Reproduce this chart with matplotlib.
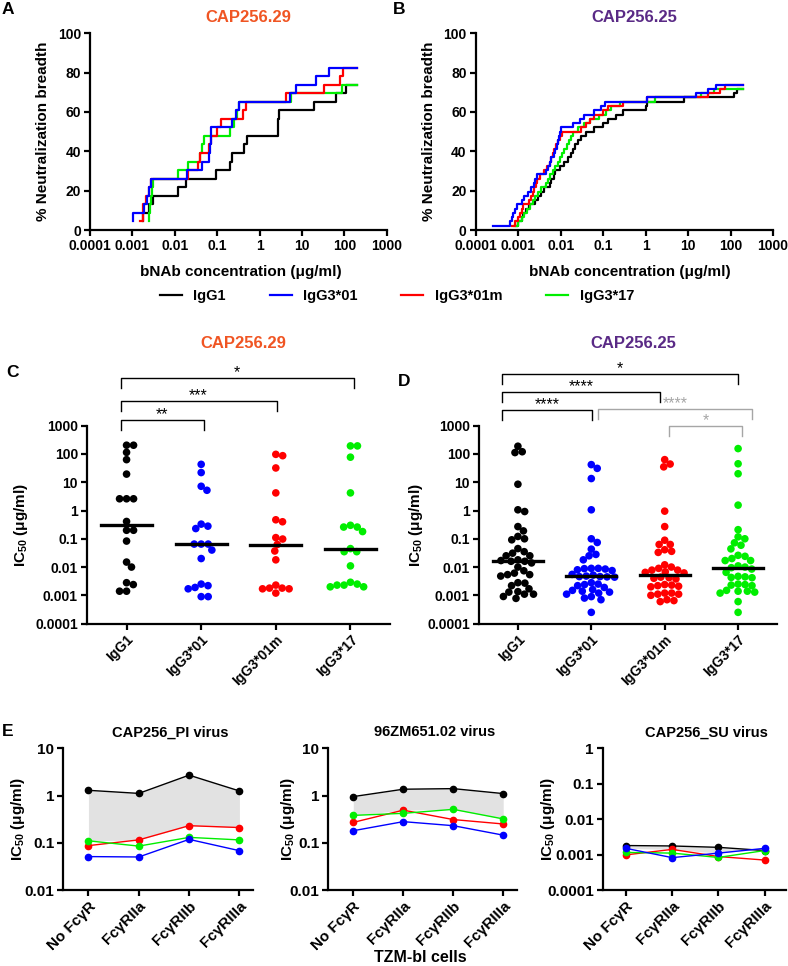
import matplotlib
matplotlib.use('Agg')
import matplotlib.pyplot as plt
import numpy as np
from matplotlib.ticker import FixedLocator, FuncFormatter, NullLocator
from matplotlib.lines import Line2D
from matplotlib.transforms import blended_transform_factory

plt.rcParams['font.family'] = ['Liberation Sans', 'DejaVu Sans']
plt.rcParams['font.weight'] = 'bold'
plt.rcParams['axes.labelweight'] = 'bold'
plt.rcParams['mathtext.fontset'] = 'custom'
plt.rcParams['mathtext.rm'] = 'Liberation Sans:bold'
plt.rcParams['mathtext.it'] = 'Liberation Sans:bold'
plt.rcParams['mathtext.bf'] = 'Liberation Sans:bold'

W, H = 788, 966

isotypes = ['IgG1', 'IgG3*01', 'IgG3*01m', 'IgG3*17']
colors = ['black', '#0000ff', '#ff0000', '#00ee00']
title_29 = 'CAP256.29'
title_25 = 'CAP256.25'
col_29 = '#f05523'
col_25 = '#5a2a86'

# A: IC50 (ug/ml) at which each virus becomes neutralized, 23 viruses in panel
n_virus_29 = 23
a_igg1 = [0.0018, 0.0018, 0.0025, 0.0031, 0.012, 0.018, 0.093, 0.2, 0.23, 0.42,
          0.51, 2.7, 2.8, 2.9, 19, 62, 107]
a_igg301 = [0.00105, 0.00105, 0.0019, 0.0022, 0.0025, 0.0027, 0.019, 0.045, 0.065,
            0.068, 0.07, 0.072, 0.23, 0.28, 0.33, 5.3, 7.2, 22, 43]
a_igg301m = [0.0015, 0.0018, 0.0018, 0.0021, 0.0025, 0.0027, 0.02, 0.035, 0.04,
             0.065, 0.07, 0.1, 0.12, 0.4, 0.47, 4.3, 33, 80, 95]
a_igg317 = [0.0024, 0.0025, 0.0026, 0.0027, 0.0029, 0.0031, 0.012, 0.02, 0.04,
            0.045, 0.05, 0.2, 0.25, 0.3, 0.33, 5.5, 90]

# B: same for CAP256.25, 46 viruses
n_virus_25 = 46
b_igg1 = [0.0009, 0.001, 0.0012, 0.0013, 0.0015, 0.0018, 0.0025, 0.003, 0.0035,
          0.004, 0.0055, 0.006, 0.0068, 0.0075, 0.0095, 0.012, 0.015, 0.018, 0.02,
          0.022, 0.025, 0.03, 0.04, 0.06, 0.1, 0.13, 0.2, 0.3, 1.0, 1.1, 8, 120, 140]
b_igg301 = [0.00025, 0.00065, 0.0007, 0.00075, 0.00085, 0.00095, 0.0012, 0.0014,
            0.0017, 0.002, 0.0023, 0.0025, 0.0028, 0.0045, 0.005, 0.0055, 0.006,
            0.007, 0.0075, 0.008, 0.0085, 0.009, 0.0095, 0.01, 0.02, 0.028, 0.035,
            0.06, 0.09, 0.11, 1.1, 15, 30, 45]
b_igg301m = [0.0007, 0.00085, 0.001, 0.0011, 0.0012, 0.0013, 0.0018, 0.002, 0.0022,
             0.0024, 0.0026, 0.0028, 0.0032, 0.004, 0.0048, 0.0055, 0.006, 0.0065,
             0.007, 0.0078, 0.0085, 0.0095, 0.011, 0.03, 0.04, 0.05, 0.06, 0.1,
             0.13, 0.3, 1.1, 30, 55, 75]
b_igg317 = [0.0008, 0.001, 0.0012, 0.0014, 0.0016, 0.0019, 0.0022, 0.0025, 0.003,
            0.0035, 0.0045, 0.005, 0.0055, 0.0065, 0.0075, 0.0085, 0.0095, 0.011,
            0.012, 0.014, 0.016, 0.018, 0.02, 0.025, 0.035, 0.05, 0.08, 0.12, 0.15,
            0.25, 1.7, 20, 40]

# C: IC50 per virus, CAP256.29
c_igg1 = [204, 204, 114, 63, 19.4, 2.6, 2.6, 2.6, 0.41, 0.2, 0.2, 0.083, 0.015,
          0.010, 0.0028, 0.0024, 0.0014, 0.0014]
c_igg301 = [43, 22, 7.2, 5.2, 0.33, 0.28, 0.23, 0.065, 0.065, 0.065, 0.04, 0.02,
            0.0025, 0.0022, 0.0019, 0.0017, 0.0009, 0.0009]
c_igg301m = [97, 87, 32, 4.2, 0.47, 0.40, 0.11, 0.098, 0.063, 0.037, 0.018, 0.0023,
             0.0018, 0.0018, 0.0017, 0.0017, 0.0012]
c_igg317 = [193, 193, 77, 4.2, 0.30, 0.26, 0.26, 0.18, 0.045, 0.035, 0.035, 0.011,
            0.0029, 0.0025, 0.0023, 0.0023, 0.002, 0.002]
c_medians = [0.30, 0.065, 0.062, 0.043]

# D: IC50 per virus, CAP256.25
d_igg1 = [188, 120, 112, 8.5, 0.92, 1.06, 0.27, 0.121, 0.092, 0.1, 0.19, 0.035,
          0.025, 0.025, 0.031, 0.045, 0.017, 0.014, 0.016, 0.016, 0.018, 0.010,
          0.0054, 0.0048, 0.0074, 0.0054, 0.0061, 0.0027, 0.0022, 0.0028, 0.0017,
          0.00135, 0.0011, 0.00078, 0.00091, 0.0011, 0.0013]
d_igg301 = [42, 31, 13.5, 1.06, 0.1, 0.074, 0.043, 0.028, 0.025, 0.018, 0.009,
            0.0085, 0.0075, 0.008, 0.0088, 0.009, 0.0055, 0.0052, 0.0048, 0.0046,
            0.0045, 0.0046, 0.0044, 0.0028, 0.0025, 0.0022, 0.0024, 0.0019, 0.0016,
            0.0013, 0.0012, 0.0014, 0.0015, 0.0011, 0.0009, 0.0008, 0.0007, 0.00025]
d_igg301m = [63, 44, 35, 0.95, 0.27, 0.089, 0.063, 0.041, 0.033, 0.036, 0.063,
             0.012, 0.010, 0.0078, 0.0078, 0.009, 0.0065, 0.0062, 0.0068, 0.0042,
             0.004, 0.0038, 0.0044, 0.0023, 0.0021, 0.0022, 0.0024, 0.002, 0.0012,
             0.0011, 0.001, 0.0011, 0.0012, 0.0007, 0.0006, 0.00065]
d_igg317 = [155, 45, 20, 1.55, 0.21, 0.10, 0.059, 0.072, 0.117, 0.044, 0.024, 0.02,
            0.017, 0.017, 0.026, 0.011, 0.0095, 0.01, 0.0085, 0.0045, 0.0042,
            0.0043, 0.0047, 0.0023, 0.0022, 0.0024, 0.0025, 0.0014, 0.0015, 0.0012,
            0.0013, 0.0014, 0.0006, 0.00025, 0.0065]
d_medians = [0.017, 0.0047, 0.0054, 0.0089]

# E: IC50 in TZM-bl cells expressing Fc gamma receptors
receptors = ['No Fc\u03b3R', 'Fc\u03b3RIIa', 'Fc\u03b3RIIb', 'Fc\u03b3RIIIa']
pi_igg1 = [1.29, 1.11, 2.7, 1.25]
pi_igg301 = [0.051, 0.05, 0.118, 0.068]
pi_igg301m = [0.087, 0.115, 0.23, 0.21]
pi_igg317 = [0.11, 0.085, 0.13, 0.115]
zm_igg1 = [0.95, 1.36, 1.4, 1.1]
zm_igg301 = [0.18, 0.28, 0.23, 0.145]
zm_igg301m = [0.27, 0.49, 0.31, 0.25]
zm_igg317 = [0.38, 0.42, 0.51, 0.32]
su_igg1 = [0.0018, 0.00175, 0.0016, 0.0013]
su_igg301 = [0.0015, 0.00082, 0.0011, 0.0015]
su_igg301m = [0.00098, 0.0014, 0.00088, 0.0007]
su_igg317 = [0.00115, 0.0011, 0.00083, 0.0013]

fig = plt.figure(figsize=(W / 100, H / 100), dpi=100)


def box(l, t, r, b):
    return [l / W, 1 - b / H, (r - l) / W, (b - t) / H]


def ftext(x, y, s, **kw):
    kw.setdefault('ha', 'center')
    kw.setdefault('va', 'center')
    fig.text(x / W, 1 - y / H, s, **kw)


def style(ax, size=10):
    for s in ['top', 'right']:
        ax.spines[s].set_visible(False)
    for s in ['left', 'bottom']:
        ax.spines[s].set_linewidth(1.6)
    ax.tick_params(width=1.6, length=4, labelsize=size, direction='out', pad=2.5)


gfmt = FuncFormatter(lambda v, p: '%g' % v)

# ---- A / B: cumulative breadth curves
for pos, series, n, ttl, tcol, lx in [
        ((90, 33.3, 386.7, 230), [a_igg1, a_igg317, a_igg301m, a_igg301], n_virus_29, title_29, col_29, 241),
        ((475.7, 33.3, 773, 230), [b_igg1, b_igg317, b_igg301m, b_igg301], n_virus_25, title_25, col_25, 630)]:
    ax = fig.add_axes(box(*pos))
    for vals, c in zip(series, ['black', colors[3], colors[2], colors[1]]):
        x = np.sort(vals)
        y = np.arange(1, len(x) + 1) / n * 100
        x = np.append(x, 200)
        y = np.append(y, y[-1])
        ax.step(x, y, where='post', color=c, lw=1.6)
    ax.set_xscale('log')
    ax.set_xlim(1e-4, 1e3)
    ax.set_ylim(0, 100)
    ax.xaxis.set_major_locator(FixedLocator([1e-4, 1e-3, 1e-2, 1e-1, 1, 10, 100, 1000]))
    ax.xaxis.set_minor_locator(NullLocator())
    ax.xaxis.set_major_formatter(gfmt)
    ax.set_yticks([0, 20, 40, 60, 80, 100])
    style(ax)
    ftext(lx, 271.7, 'bNAb concentration (\u03bcg/ml)', fontsize=11)
    ftext(pos[0] - 47, 131.6, '% Neutralization breadth', fontsize=11, rotation=90)
    ftext((pos[0] + pos[2]) / 2 + 10, 18, ttl, fontsize=12, color=tcol)

ftext(8, 9, 'A', fontsize=12.5)
ftext(399, 9, 'B', fontsize=12.5)

handles = [Line2D([], [], color=c, lw=1.6) for c in colors]
fig.legend(handles, isotypes, loc='center', bbox_to_anchor=(397 / W, 1 - 296 / H),
           ncol=4, frameon=False, handlelength=1.5, handletextpad=0.8,
           columnspacing=3.0, fontsize=10.5)


def swarm_x(ax, xc, vals, d):
    # spread dots sideways (in pixels) so they do not overlap
    pts = ax.transData.transform(np.column_stack([np.full(len(vals), xc), vals]))
    ys = pts[:, 1]
    offs = np.zeros(len(vals))
    placed = []
    for i in np.argsort(-ys):
        y = ys[i]
        cands = [0.0]
        for px, py in placed:
            dy = y - py
            if abs(dy) < d:
                dx = np.sqrt(d * d - dy * dy)
                cands += [px + dx, px - dx]
        cands.sort(key=abs)
        for c in cands:
            if all((c - px) ** 2 + (y - py) ** 2 >= d * d - 1e-6 for px, py in placed):
                placed.append((c, y))
                offs[i] = c
                break
    back = ax.transData.inverted().transform(np.column_stack([pts[:, 0] + offs, ys]))
    return back[:, 0]


def bracket(ax, x1, x2, y, txt, col, drop=0.05):
    tr = blended_transform_factory(ax.transData, ax.transAxes)
    ax.plot([x1, x1, x2, x2], [y - drop, y, y, y - drop], color=col, lw=1.0,
            transform=tr, clip_on=False)
    ax.text((x1 + x2) / 2, y - 0.01, txt, transform=tr, ha='center', va='bottom',
            color=col, fontsize=11.5, fontweight='normal')


# ---- C / D: dot plots
grey = '#a6a6a6'
for pos, series, meds, ttl, tcol, brk, ylx, letter in [
        ((87, 425.7, 390, 623.6), [c_igg1, c_igg301, c_igg301m, c_igg317], c_medians, title_29, col_29,
         [(-0.08, 1.04, 1.029, '**', 'black'), (-0.08, 2.01, 1.126, '***', 'black'),
          (-0.08, 3.05, 1.241, '*', 'black')], 21, (6, 372, 'C')),
        ((479, 425.7, 777, 623.6), [d_igg1, d_igg301, d_igg301m, d_igg317], d_medians, title_25, col_25,
         [(-0.21, 3.0, 1.261, '*', 'black'), (-0.21, 1.94, 1.170, '****', 'black'),
          (-0.21, 1.01, 1.079, '****', 'black'), (1.09, 3.19, 1.083, '****', grey),
          (2.06, 3.05, 0.998, '*', grey)], 416, (398, 382, 'D'))]:
    ax = fig.add_axes(box(*pos))
    ax.set_yscale('log')
    ax.set_ylim(1e-4, 1e3)
    ax.set_xlim(-0.53, 3.53)
    for i, (vals, c) in enumerate(zip(series, colors)):
        xs = swarm_x(ax, i, vals, 7.0)
        ax.scatter(xs, vals, s=30, color=c, edgecolors='none', zorder=3)
        ax.plot([i - 0.34, i + 0.34], [meds[i], meds[i]], color='black', lw=2.4, zorder=4)
    ax.yaxis.set_major_locator(FixedLocator([1e-4, 1e-3, 1e-2, 1e-1, 1, 10, 100, 1000]))
    ax.yaxis.set_minor_locator(NullLocator())
    ax.yaxis.set_major_formatter(gfmt)
    ax.set_xticks(range(4))
    ax.set_xticklabels(isotypes, rotation=45, ha='right', rotation_mode='anchor')
    style(ax)
    for x1, x2, y, t, c in brk:
        bracket(ax, x1, x2, y, t, c, drop=0.05)
    ftext((pos[0] + pos[2]) / 2 + 5, 343.3, ttl, fontsize=12, color=tcol)
    ftext(ylx, 524.6, 'IC$_{50}$ (\u03bcg/ml)', fontsize=11, rotation=90)
    ftext(letter[0], letter[1], letter[2], fontsize=12.5, ha='left')

# ---- E: Fc receptor panels
for pos, series, ylim, yt, ttl, ylx in [
        ((63.3, 748.3, 253, 890), [pi_igg1, pi_igg301m, pi_igg317, pi_igg301], (0.01, 10),
         [0.01, 0.1, 1, 10], 'CAP256_PI virus', 18),
        ((328.3, 748.3, 516.7, 890), [zm_igg1, zm_igg301m, zm_igg317, zm_igg301], (0.01, 10),
         [0.01, 0.1, 1, 10], '96ZM651.02 virus', 288),
        ((602.7, 748.3, 786, 890), [su_igg1, su_igg301m, su_igg317, su_igg301], (1e-4, 1),
         [1e-4, 1e-3, 0.01, 0.1, 1], 'CAP256_SU virus', 548)]:
    ax = fig.add_axes(box(*pos))
    x = np.arange(4)
    low = np.max(np.array(series[1:]), axis=0)
    ax.fill_between(x, low, series[0], color='#e2e2e2', lw=0, zorder=0)
    for vals, c in zip(series, ['black', colors[2], colors[3], colors[1]]):
        ax.plot(x, vals, '-o', color=c, lw=1.0, ms=4.5, zorder=3)
    ax.set_yscale('log')
    ax.set_ylim(*ylim)
    ax.set_xlim(-0.5, 3.27 if ylim[1] == 10 else 3.46)
    ax.yaxis.set_major_locator(FixedLocator(yt))
    ax.yaxis.set_minor_locator(NullLocator())
    ax.yaxis.set_major_formatter(gfmt)
    ax.set_xticks(x)
    ax.set_xticklabels(receptors, rotation=45, ha='right', rotation_mode='anchor')
    style(ax, size=11)
    ftext((pos[0] + pos[2]) / 2 + 12, 732.5, ttl, fontsize=10.5)
    ftext(ylx, 819, 'IC$_{50}$ (\u03bcg/ml)', fontsize=11, rotation=90)

ftext(2, 732, 'E', fontsize=12.5, ha='left')
ftext(420, 957, 'TZM-bl cells', fontsize=11.5)

fig.savefig('out.png', dpi=100)
